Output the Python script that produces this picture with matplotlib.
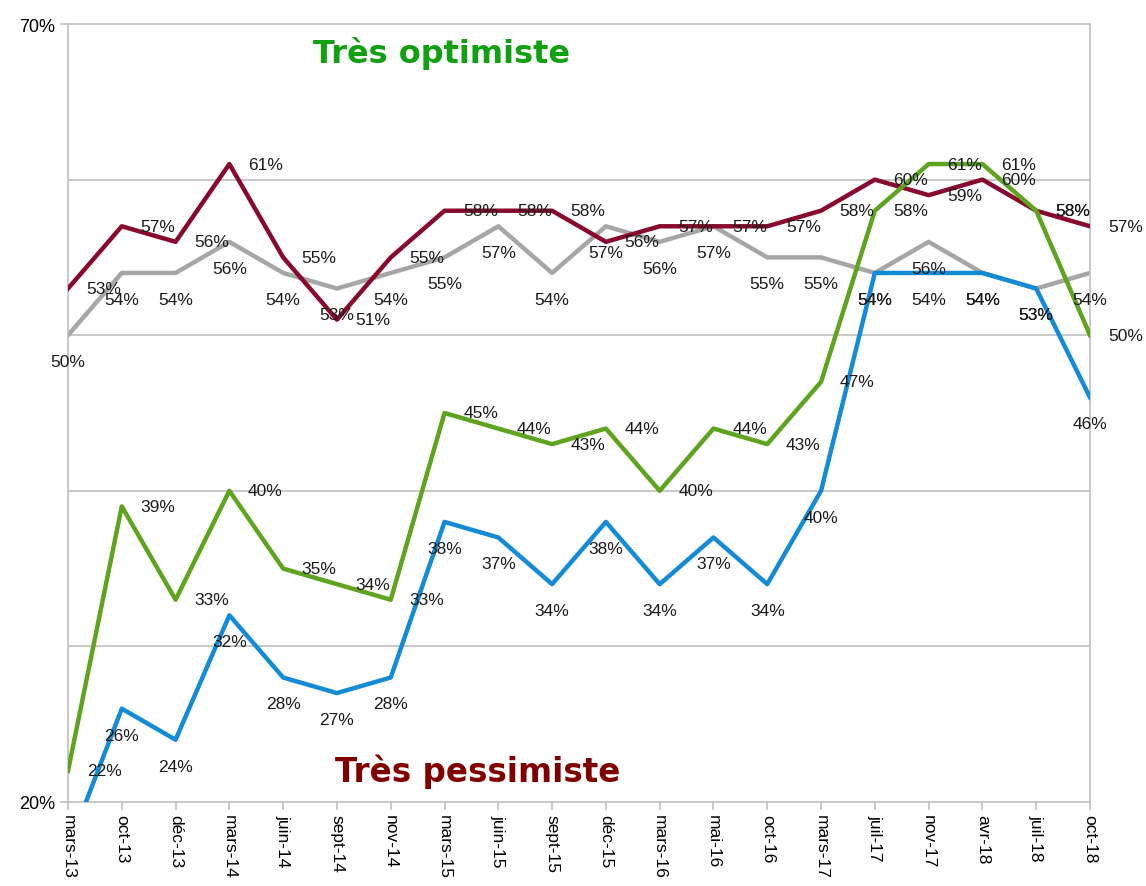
import matplotlib.pyplot as plt

plt.rcParams['font.family'] = ['Liberation Sans', 'DejaVu Sans']

mois = ["mars-13", "oct-13", "déc-13", "mars-14", "juin-14", "sept-14", "nov-14",
        "mars-15", "juin-15", "sept-15", "déc-15", "mars-16", "mai-16", "oct-16",
        "mars-17", "juil-17", "nov-17", "avr-18", "juil-18", "oct-18"]

# series (percent)
bordeaux = [53, 57, 56, 61, 55, 51, 55, 58, 58, 58, 56, 57, 57, 57, 58, 60, 59, 60, 58, 57]
gris = [50, 54, 54, 56, 54, 53, 54, 55, 57, 54, 57, 56, 57, 55, 55, 54, 56, 54, 53, 54]
vert = [22, 39, 33, 40, 35, 34, 33, 45, 44, 43, 44, 40, 44, 43, 47, 58, 61, 61, 58, 50]
bleu = [17, 26, 24, 32, 28, 27, 28, 38, 37, 34, 38, 34, 37, 34, 40, 54, 54, 54, 53, 46]

x = list(range(len(mois)))

fig = plt.figure(figsize=(11.46, 8.87), dpi=100)
ax = fig.add_axes([68/1146, 84/887, 1022/1146, 778/887])

for y in [30, 40, 50, 60]:
    ax.axhline(y, color='#BFBFBF', lw=1.2, zorder=0)

ax.plot(x, gris, color='#A6A6A6', lw=3.2, zorder=2)
ax.plot(x, bordeaux, color='#870A2E', lw=3.2, zorder=3)
ax.plot(x, vert, color='#5EA41E', lw=3.2, zorder=3)
ax.plot(x, bleu, color='#138BD6', lw=3.2, zorder=3)

# labels: gray and blue below, maroon and green to the right
for i in x:
    if i > 0:
        ax.annotate(f"{bleu[i]}%", (i, bleu[i]), xytext=(0, -19), textcoords='offset points',
                    ha='center', va='center', fontsize=12.5, color='#1A1A1A')
    ax.annotate(f"{gris[i]}%", (i, gris[i]), xytext=(0, -19), textcoords='offset points',
                ha='center', va='center', fontsize=12.5, color='#1A1A1A')
    ax.annotate(f"{bordeaux[i]}%", (i, bordeaux[i]), xytext=(26, 0), textcoords='offset points',
                ha='center', va='center', fontsize=12.5, color='#1A1A1A')
    ax.annotate(f"{vert[i]}%", (i, vert[i]), xytext=(26, 0), textcoords='offset points',
                ha='center', va='center', fontsize=12.5, color='#1A1A1A')

ax.text(0.365, 0.963, "Très optimiste", transform=ax.transAxes, ha='center', va='center',
        fontsize=23, fontweight='bold', color='#11A011', family='DejaVu Sans')
ax.text(0.401, 0.040, "Très pessimiste", transform=ax.transAxes, ha='center', va='center',
        fontsize=23.5, fontweight='bold', color='#800000', family='DejaVu Sans')

ax.set_xlim(0, len(mois) - 1)
ax.set_ylim(20, 70)
ax.set_xticks(x)
ax.set_xticklabels(mois, rotation=-90, fontsize=12.5)
ax.set_yticks([20, 70])
ax.set_yticklabels(["20%", "70%"], fontsize=13)
ax.tick_params(axis='both', color='#BFBFBF', length=6, width=1.2)
ax.tick_params(axis='x', pad=3)
for s in ax.spines.values():
    s.set_color('#BFBFBF')
    s.set_linewidth(1.2)

fig.savefig("out.png", dpi=100)
